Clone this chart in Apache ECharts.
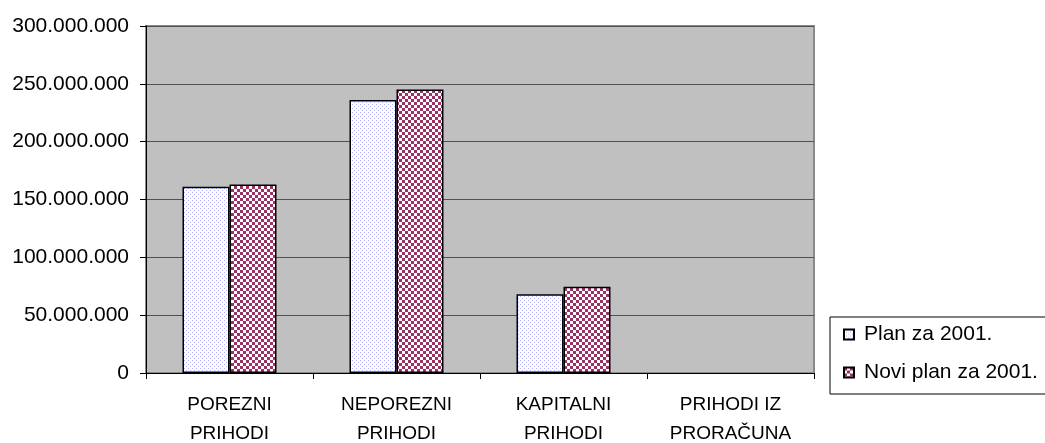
<!DOCTYPE html>
<html>
<head>
<meta charset="utf-8">
<script src="https://cdn.jsdelivr.net/npm/echarts@6/dist/echarts.min.js"></script>
<style>
html,body{margin:0;padding:0;background:#fff;}
#c{width:1045px;height:443px;}
</style>
</head>
<body>
<div id="c"></div>
<script>
const categories = ['POREZNI\nPRIHODI', 'NEPOREZNI\nPRIHODI', 'KAPITALNI\nPRIHODI', 'PRIHODI IZ\nPRORAČUNA'];
const seriesNames = ['Plan za 2001.', 'Novi plan za 2001.'];
const planValues = [161000000, 236000000, 68000000, 0];
const noviPlanValues = [163000000, 245000000, 74500000, 0];

function dotPattern() {
  const c = document.createElement('canvas');
  c.width = 4; c.height = 4;
  const g = c.getContext('2d');
  g.fillStyle = '#ffffff'; g.fillRect(0, 0, 4, 4);
  g.fillStyle = '#b0b0ff';
  g.fillRect(0, 0, 1, 1);
  g.fillRect(2, 2, 1, 1);
  return c;
}
function checkPattern() {
  const c = document.createElement('canvas');
  c.width = 6; c.height = 6;
  const g = c.getContext('2d');
  g.fillStyle = '#ffffff'; g.fillRect(0, 0, 6, 6);
  g.fillStyle = '#993366';
  g.fillRect(0, 0, 3, 3);
  g.fillRect(3, 3, 3, 3);
  return c;
}

function fmt(v) {
  return String(v).replace(/\B(?=(\d{3})+(?!\d))/g, '.');
}
// zero-valued bars are not drawn in the original
function hideZero(arr) { return arr.map(v => (v === 0 ? null : v)); }

const chart = echarts.init(document.getElementById('c'), null, {renderer: 'canvas'});
const font = 'Liberation Sans, Arial, sans-serif';
chart.setOption({
  animation: false,
  textStyle: {fontFamily: font},
  grid: {
    left: 146, right: 231, top: 26, bottom: 70,
    outerBoundsMode: 'none',
    containLabel: false,
    show: true, backgroundColor: '#c0c0c0', borderColor: '#8a8a8a', borderWidth: 2
  },
  legend: {
    orient: 'vertical',
    left: 830, top: 317,
    padding: [7, 40, 11, 13],
    itemWidth: 10, itemHeight: 10,
    itemGap: 17,
    icon: 'rect',
    borderColor: '#000', borderWidth: 1,
    backgroundColor: '#fff',
    itemStyle: {borderColor: '#000', borderWidth: 2},
    textStyle: {fontSize: 21, color: '#000', fontFamily: font, padding: [0, 0, 0, 5]},
    data: seriesNames
  },
  xAxis: {
    type: 'category',
    data: categories,
    axisLine: {lineStyle: {color: '#000', width: 1}},
    axisTick: {show: true, length: 6, lineStyle: {color: '#000'}},
    axisLabel: {fontSize: 19, color: '#000', lineHeight: 29, margin: 17, fontFamily: font, interval: 0}
  },
  yAxis: {
    type: 'value',
    min: 0, max: 300000000, interval: 50000000,
    axisLine: {show: true, lineStyle: {color: '#000', width: 1}},
    axisTick: {show: true, length: 6, lineStyle: {color: '#000'}},
    axisLabel: {fontSize: 21, color: '#000', margin: 17, fontFamily: font, formatter: fmt},
    splitLine: {show: true, lineStyle: {color: '#505050', width: 1}}
  },
  series: [
    {
      name: seriesNames[0], type: 'bar', data: hideZero(planValues),
      barWidth: 47, barGap: '0%',
      itemStyle: {color: {image: dotPattern(), repeat: 'repeat'}, borderColor: '#000', borderWidth: 1.5}
    },
    {
      name: seriesNames[1], type: 'bar', data: hideZero(noviPlanValues),
      barWidth: 47, barGap: '0%',
      itemStyle: {color: {image: checkPattern(), repeat: 'repeat'}, borderColor: '#000', borderWidth: 1.5}
    }
  ]
});
</script>
</body>
</html>
